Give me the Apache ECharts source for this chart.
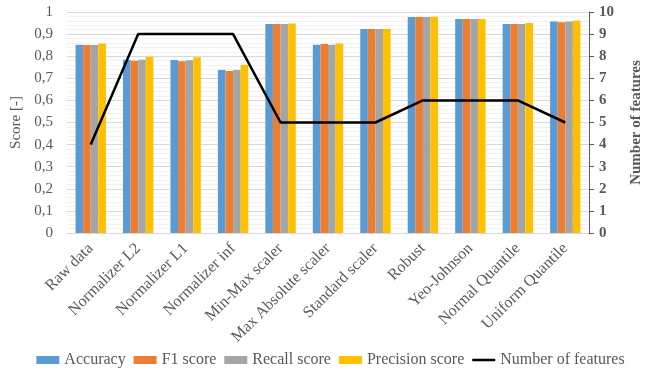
<!DOCTYPE html>
<html>
<head>
<meta charset="utf-8">
<script src="https://cdn.jsdelivr.net/npm/echarts@6/dist/echarts.min.js"></script>
<style>
  html, body { margin: 0; padding: 0; background: #fff; }
  #main { width: 661px; height: 373px; }
</style>
</head>
<body>
<div id="main"></div>
<script>
// categories and values
var categories = ['Raw data', 'Normalizer L2', 'Normalizer L1', 'Normalizer inf', 'Min-Max scaler',
  'Max Absolute scaler', 'Standard scaler', 'Robust', 'Yeo-Johnson', 'Normal Quantile', 'Uniform Quantile']
var accuracy = [0.852, 0.784, 0.783, 0.738, 0.946, 0.852, 0.923, 0.977, 0.968, 0.946, 0.957]
var f1Score = [0.851, 0.779, 0.777, 0.733, 0.946, 0.855, 0.923, 0.977, 0.968, 0.946, 0.954]
var recallScore = [0.851, 0.784, 0.782, 0.738, 0.946, 0.852, 0.923, 0.977, 0.968, 0.946, 0.957]
var precisionScore = [0.858, 0.796, 0.795, 0.761, 0.948, 0.857, 0.923, 0.979, 0.968, 0.950, 0.962]
var numFeatures = [4, 9, 9, 9, 5, 5, 5, 6, 6, 6, 5]

var font = 'Liberation Serif'
var textColor = '#595959'
var colors = ['#5B9BD5', '#ED7D31', '#A5A5A5', '#FFC000', '#000000']

var myChart = echarts.init(document.getElementById('main'))

function barSeries(name, data, color) {
  return {
    name: name,
    type: 'bar',
    data: data,
    barGap: '0%',
    barCategoryGap: '36%',
    itemStyle: { color: color },
    z: 2
  }
}

var option = {
  animation: false,
  textStyle: { fontFamily: font },
  grid: { left: 67, right: 72, top: 12, bottom: 140 },
  legend: {
    bottom: 0,
    left: 'center',
    itemWidth: 23,
    itemHeight: 8,
    itemGap: 8,
    textStyle: { fontFamily: font, fontSize: 16, color: textColor },
    data: [
      { name: 'Accuracy', icon: 'rect' },
      { name: 'F1 score', icon: 'rect' },
      { name: 'Recall score', icon: 'rect' },
      { name: 'Precision score', icon: 'rect' },
      { name: 'Number of features', icon: 'path://M0,0 L23,0 L23,2.5 L0,2.5 Z' }
    ]
  },
  xAxis: {
    type: 'category',
    data: categories,
    axisLine: { lineStyle: { color: '#D9D9D9', width: 1 } },
    axisTick: { show: false },
    axisLabel: {
      rotate: 45,
      interval: 0,
      margin: 13,
      fontFamily: font,
      fontSize: 16,
      color: textColor
    }
  },
  yAxis: [
    {
      type: 'value',
      name: 'Score [-]',
      nameLocation: 'middle',
      nameGap: 43,
      nameTextStyle: { fontFamily: font, fontSize: 15, color: textColor },
      min: 0,
      max: 1,
      interval: 0.1,
      axisLine: { show: false },
      axisTick: { show: false },
      axisLabel: {
        margin: 14,
        fontFamily: font,
        fontSize: 15,
        color: textColor,
        formatter: function (v) {
          return String(Math.round(v * 10) / 10).replace('.', ',')
        }
      },
      splitLine: { lineStyle: { color: '#D9D9D9', width: 1 } },
      minorTick: { show: false, splitNumber: 5 },
      minorSplitLine: { show: true, lineStyle: { color: '#F2F2F2', width: 1 } }
    },
    {
      type: 'value',
      name: 'Number of features',
      nameLocation: 'middle',
      nameGap: 40,
      nameRotate: 90,
      nameTextStyle: { fontFamily: font, fontSize: 15, fontWeight: 'bold', color: textColor },
      min: 0,
      max: 10,
      interval: 1,
      position: 'right',
      axisLine: { show: true, lineStyle: { color: '#595959', width: 1 } },
      axisTick: { show: true, inside: false, length: 5, lineStyle: { color: '#595959' } },
      axisLabel: {
        margin: 10,
        fontFamily: font,
        fontSize: 15,
        fontWeight: 'bold',
        color: textColor
      },
      splitLine: { show: false }
    }
  ],
  series: [
    barSeries('Accuracy', accuracy, colors[0]),
    barSeries('F1 score', f1Score, colors[1]),
    barSeries('Recall score', recallScore, colors[2]),
    barSeries('Precision score', precisionScore, colors[3]),
    {
      name: 'Number of features',
      type: 'line',
      yAxisIndex: 1,
      data: numFeatures,
      symbol: 'none',
      itemStyle: { color: colors[4] },
      lineStyle: { color: colors[4], width: 2.5 },
      z: 5
    }
  ]
}

myChart.setOption(option)
</script>
</body>
</html>
